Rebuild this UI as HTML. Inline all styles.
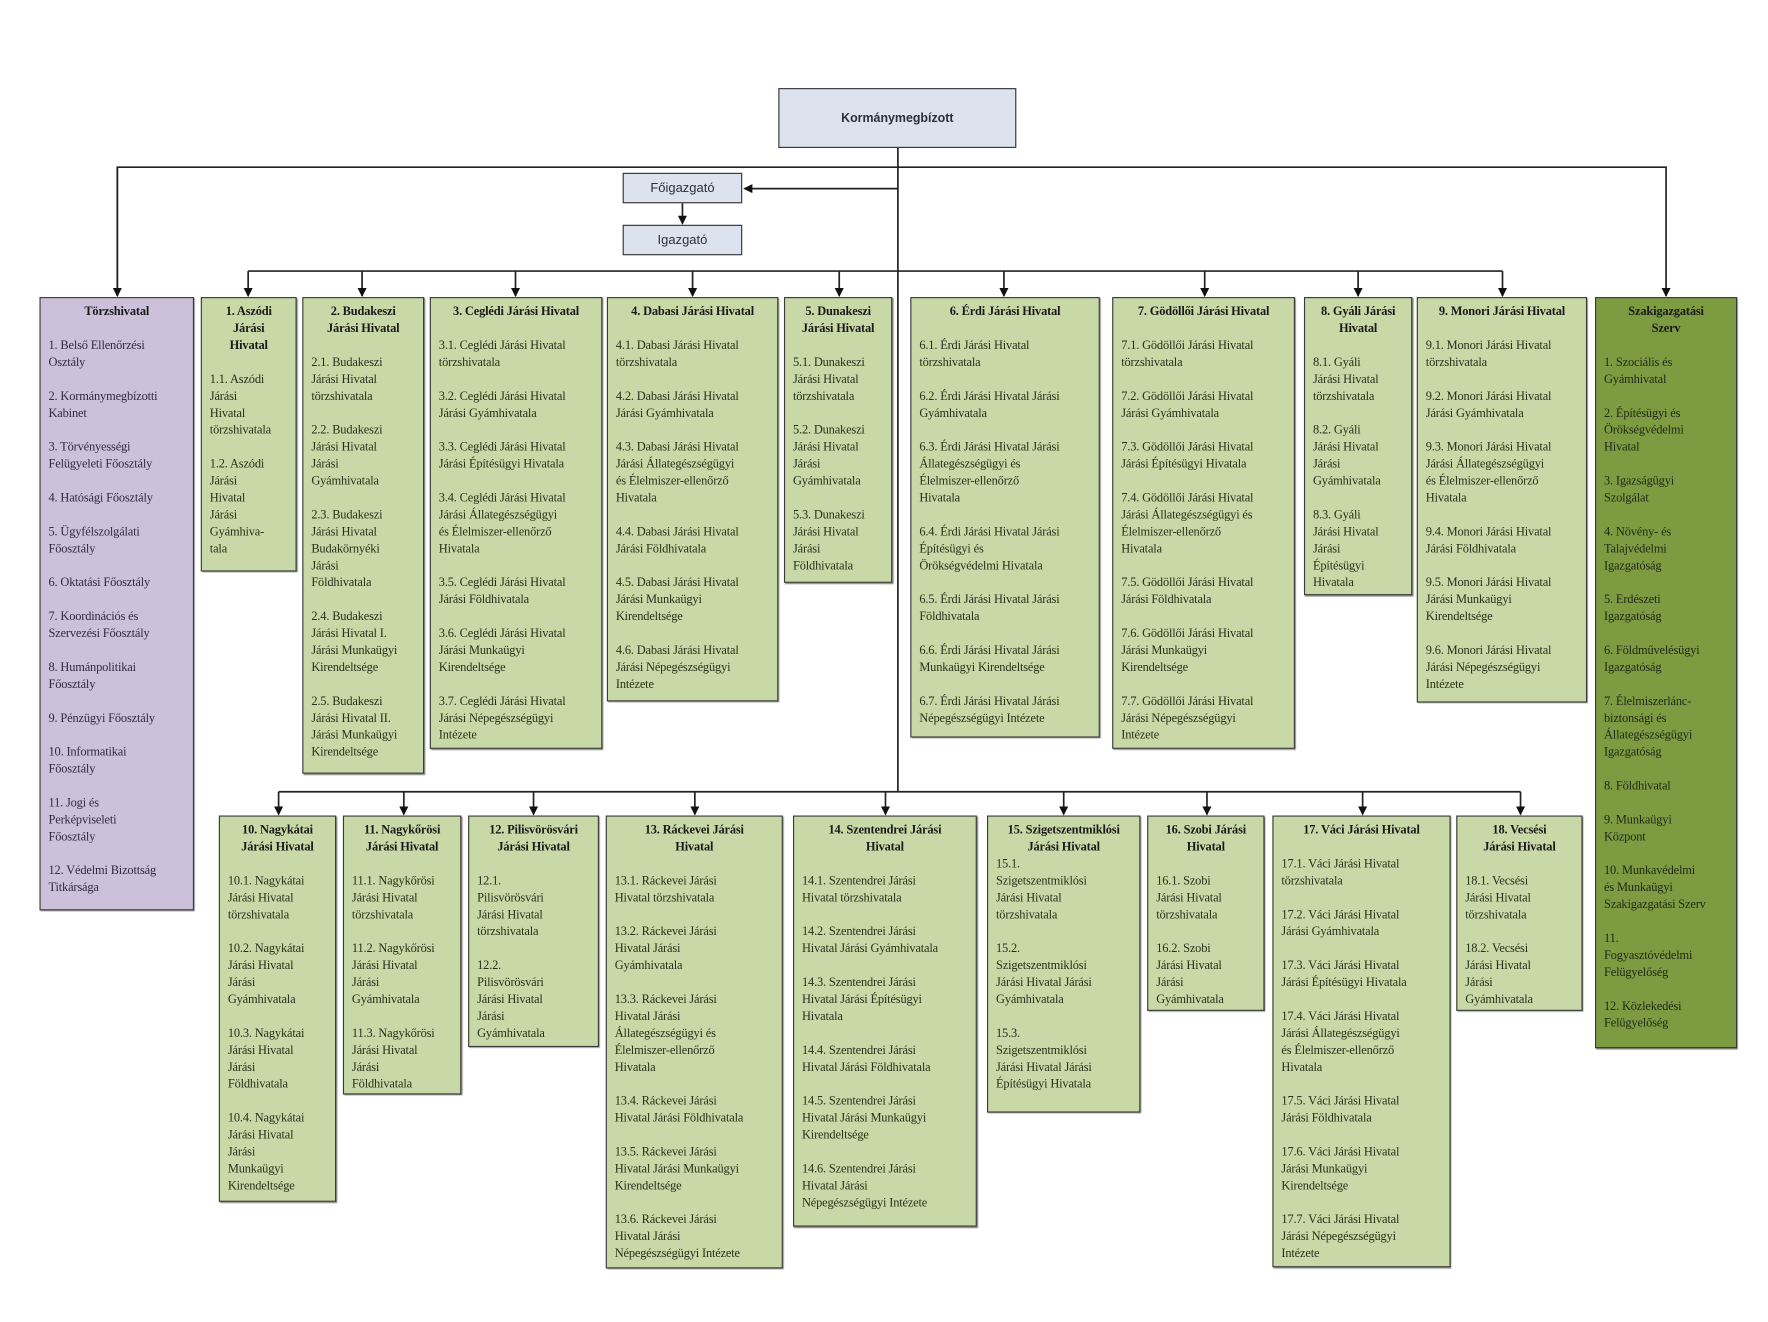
<!DOCTYPE html>
<html><head><meta charset="utf-8"><style>
html,body{margin:0;padding:0;background:#fff;}
body{width:1768px;height:1322px;overflow:hidden;position:relative;}
#c{position:absolute;left:0;top:0;width:1550px;height:1160px;transform-origin:0 0;transform:scale(1.128,1.1295);}
.b{position:absolute;box-sizing:border-box;border:1.5px solid #3a3a3a;box-shadow:1px 1px 1px #777;background:#c8d8a6;padding:5px 5px 0 7px;font:11px/15px "Liberation Serif",serif;color:#26321a;white-space:nowrap;letter-spacing:-0.15px;overflow:hidden;}
.b .t{font-weight:bold;text-align:center;color:#1a1a1a;margin-right:2px;}
.p{background:#cdc0db;color:#33293d;}
.d{background:#7d9c42;color:#1e2814;}
.top{position:absolute;box-sizing:border-box;border:1.5px solid #333;background:#dde3ee;font:bold 11px "Liberation Sans",sans-serif;color:#2a2f3a;display:flex;align-items:center;justify-content:center;}
.top.s{font-weight:normal;font-size:11.5px;}
svg{position:absolute;left:0;top:0;}
</style></head><body><div id="c">
<svg width="1550" height="1160" viewBox="0 0 1550 1160">
<defs><marker id="a" markerWidth="8" markerHeight="8" refX="7" refY="4" orient="auto" markerUnits="userSpaceOnUse"><path d="M0,0 L8,4 L0,8 z" fill="#111"/></marker></defs>
<g stroke="#222" stroke-width="1.5" fill="none">
<line x1="796" y1="131" x2="796" y2="701"/>
<polyline points="104,262 104,148 1477,148 1477,262" marker-end="url(#a)"/>
<line x1="104" y1="148" x2="104" y2="262" marker-end="url(#a)"/>
<line x1="796" y1="167" x2="660" y2="167" marker-end="url(#a)"/>
<line x1="605" y1="180" x2="605" y2="198" marker-end="url(#a)"/>
<line x1="220" y1="240" x2="1332" y2="240"/>
<line x1="220" y1="240" x2="220" y2="262" marker-end="url(#a)"/>
<line x1="321" y1="240" x2="321" y2="262" marker-end="url(#a)"/>
<line x1="457" y1="240" x2="457" y2="262" marker-end="url(#a)"/>
<line x1="614" y1="240" x2="614" y2="262" marker-end="url(#a)"/>
<line x1="744" y1="240" x2="744" y2="262" marker-end="url(#a)"/>
<line x1="890" y1="240" x2="890" y2="262" marker-end="url(#a)"/>
<line x1="1068" y1="240" x2="1068" y2="262" marker-end="url(#a)"/>
<line x1="1204" y1="240" x2="1204" y2="262" marker-end="url(#a)"/>
<line x1="1332" y1="240" x2="1332" y2="262" marker-end="url(#a)"/>
<line x1="247" y1="701" x2="1348" y2="701"/>
<line x1="247" y1="701" x2="247" y2="721" marker-end="url(#a)"/>
<line x1="358" y1="701" x2="358" y2="721" marker-end="url(#a)"/>
<line x1="473" y1="701" x2="473" y2="721" marker-end="url(#a)"/>
<line x1="616" y1="701" x2="616" y2="721" marker-end="url(#a)"/>
<line x1="785" y1="701" x2="785" y2="721" marker-end="url(#a)"/>
<line x1="943" y1="701" x2="943" y2="721" marker-end="url(#a)"/>
<line x1="1070" y1="701" x2="1070" y2="721" marker-end="url(#a)"/>
<line x1="1208" y1="701" x2="1208" y2="721" marker-end="url(#a)"/>
<line x1="1348" y1="701" x2="1348" y2="721" marker-end="url(#a)"/>
</g></svg>

<div class="top" style="left:690px;top:78px;width:211px;height:53px;">Kormánymegbízott</div>
<div class="top s" style="left:552px;top:153px;width:106px;height:27px;">Főigazgató</div>
<div class="top s" style="left:552px;top:199px;width:106px;height:27px;">Igazgató</div>

<div class="b p" style="left:35px;top:263px;width:137px;height:543px;"><div class="t">Törzshivatal</div><br>1. Belső Ellenőrzési<br>Osztály<br><br>2. Kormánymegbízotti<br>Kabinet<br><br>3. Törvényességi<br>Felügyeleti Főosztály<br><br>4. Hatósági Főosztály<br><br>5. Ügyfélszolgálati<br>Főosztály<br><br>6. Oktatási Főosztály<br><br>7. Koordinációs és<br>Szervezési Főosztály<br><br>8. Humánpolitikai<br>Főosztály<br><br>9. Pénzügyi Főosztály<br><br>10. Informatikai<br>Főosztály<br><br>11. Jogi és<br>Perképviseleti<br>Főosztály<br><br>12. Védelmi Bizottság<br>Titkársága</div>

<div class="b" style="left:178px;top:263px;width:85px;height:243px;"><div class="t">1. Aszódi<br>Járási<br>Hivatal</div><br>1.1. Aszódi<br>Járási<br>Hivatal<br>törzshivatala<br><br>1.2. Aszódi<br>Járási<br>Hivatal<br>Járási<br>Gyámhiva-<br>tala</div>

<div class="b" style="left:268px;top:263px;width:108px;height:422px;"><div class="t">2. Budakeszi<br>Járási Hivatal</div><br>2.1. Budakeszi<br>Járási Hivatal<br>törzshivatala<br><br>2.2. Budakeszi<br>Járási Hivatal<br>Járási<br>Gyámhivatala<br><br>2.3. Budakeszi<br>Járási Hivatal<br>Budakörnyéki<br>Járási<br>Földhivatala<br><br>2.4. Budakeszi<br>Járási Hivatal I.<br>Járási Munkaügyi<br>Kirendeltsége<br><br>2.5. Budakeszi<br>Járási Hivatal II.<br>Járási Munkaügyi<br>Kirendeltsége</div>

<div class="b" style="left:381px;top:263px;width:153px;height:400px;"><div class="t">3. Ceglédi Járási Hivatal</div><br>3.1. Ceglédi Járási Hivatal<br>törzshivatala<br><br>3.2. Ceglédi Járási Hivatal<br>Járási Gyámhivatala<br><br>3.3. Ceglédi Járási Hivatal<br>Járási Építésügyi Hivatala<br><br>3.4. Ceglédi Járási Hivatal<br>Járási  Állategészségügyi<br>és Élelmiszer-ellenőrző<br>Hivatala<br><br>3.5. Ceglédi Járási Hivatal<br>Járási  Földhivatala<br><br>3.6. Ceglédi Járási Hivatal<br>Járási Munkaügyi<br>Kirendeltsége<br><br>3.7. Ceglédi Járási Hivatal<br>Járási Népegészségügyi<br>Intézete</div>

<div class="b" style="left:538px;top:263px;width:152px;height:358px;"><div class="t">4. Dabasi Járási Hivatal</div><br>4.1. Dabasi Járási Hivatal<br>törzshivatala<br><br>4.2. Dabasi Járási Hivatal<br>Járási Gyámhivatala<br><br>4.3. Dabasi Járási Hivatal<br>Járási Állategészségügyi<br>és Élelmiszer-ellenőrző<br>Hivatala<br><br>4.4. Dabasi Járási Hivatal<br>Járási Földhivatala<br><br>4.5. Dabasi Járási Hivatal<br>Járási Munkaügyi<br>Kirendeltsége<br><br>4.6. Dabasi Járási Hivatal<br>Járási Népegészségügyi<br>Intézete</div>

<div class="b" style="left:695px;top:263px;width:96px;height:253px;"><div class="t">5. Dunakeszi<br>Járási Hivatal</div><br>5.1. Dunakeszi<br>Járási Hivatal<br>törzshivatala<br><br>5.2. Dunakeszi<br>Járási Hivatal<br>Járási<br>Gyámhivatala<br><br>5.3. Dunakeszi<br>Járási Hivatal<br>Járási<br>Földhivatala</div>

<div class="b" style="left:807px;top:263px;width:168px;height:390px;"><div class="t">6. Érdi Járási Hivatal</div><br>6.1. Érdi Járási Hivatal<br>törzshivatala<br><br>6.2. Érdi Járási Hivatal Járási<br>Gyámhivatala<br><br>6.3. Érdi Járási Hivatal Járási<br>Állategészségügyi és<br>Élelmiszer-ellenőrző<br>Hivatala<br><br>6.4. Érdi Járási Hivatal Járási<br>Építésügyi és<br>Örökségvédelmi Hivatala<br><br>6.5. Érdi Járási Hivatal Járási<br>Földhivatala<br><br>6.6. Érdi Járási Hivatal Járási<br>Munkaügyi Kirendeltsége<br><br>6.7. Érdi Járási Hivatal Járási<br>Népegészségügyi Intézete</div>

<div class="b" style="left:986px;top:263px;width:162px;height:400px;"><div class="t">7. Gödöllői Járási Hivatal</div><br>7.1. Gödöllői Járási Hivatal<br>törzshivatala<br><br>7.2. Gödöllői Járási Hivatal<br>Járási Gyámhivatala<br><br>7.3. Gödöllői Járási Hivatal<br>Járási Építésügyi Hivatala<br><br>7.4. Gödöllői Járási Hivatal<br>Járási Állategészségügyi és<br>Élelmiszer-ellenőrző<br>Hivatala<br><br>7.5. Gödöllői Járási Hivatal<br>Járási Földhivatala<br><br>7.6. Gödöllői Járási Hivatal<br>Járási Munkaügyi<br>Kirendeltsége<br><br>7.7. Gödöllői Járási Hivatal<br>Járási Népegészségügyi<br>Intézete</div>

<div class="b" style="left:1156px;top:263px;width:96px;height:264px;"><div class="t">8. Gyáli Járási<br>Hivatal</div><br>8.1. Gyáli<br>Járási Hivatal<br>törzshivatala<br><br>8.2. Gyáli<br>Járási Hivatal<br>Járási<br>Gyámhivatala<br><br>8.3. Gyáli<br>Járási Hivatal<br>Járási<br>Építésügyi<br>Hivatala</div>

<div class="b" style="left:1256px;top:263px;width:151px;height:359px;"><div class="t">9. Monori Járási Hivatal</div><br>9.1. Monori Járási Hivatal<br>törzshivatala<br><br>9.2. Monori Járási Hivatal<br>Járási Gyámhivatala<br><br>9.3. Monori Járási Hivatal<br>Járási Állategészségügyi<br>és Élelmiszer-ellenőrző<br>Hivatala<br><br>9.4. Monori Járási Hivatal<br>Járási Földhivatala<br><br>9.5. Monori Járási Hivatal<br>Járási Munkaügyi<br>Kirendeltsége<br><br>9.6. Monori Járási Hivatal<br>Járási Népegészségügyi<br>Intézete</div>

<div class="b d" style="left:1414px;top:263px;width:126px;height:665px;"><div class="t">Szakigazgatási<br>Szerv</div><br>1. Szociális és<br>Gyámhivatal<br><br>2. Építésügyi és<br>Örökségvédelmi<br>Hivatal<br><br>3. Igazságügyi<br>Szolgálat<br><br>4. Növény- és<br>Talajvédelmi<br>Igazgatóság<br><br>5. Erdészeti<br>Igazgatóság<br><br>6. Földművelésügyi<br>Igazgatóság<br><br>7. Élelmiszerlánc-<br>biztonsági és<br>Állategészségügyi<br>Igazgatóság<br><br>8. Földhivatal<br><br>9. Munkaügyi<br>Központ<br><br>10. Munkavédelmi<br>és Munkaügyi<br>Szakigazgatási Szerv<br><br>11.<br>Fogyasztóvédelmi<br>Felügyelőség<br><br>12. Közlekedési<br>Felügyelőség</div>

<div class="b" style="left:194px;top:722px;width:104px;height:342px;"><div class="t">10. Nagykátai<br>Járási Hivatal</div><br>10.1. Nagykátai<br>Járási Hivatal<br>törzshivatala<br><br>10.2. Nagykátai<br>Járási Hivatal<br>Járási<br>Gyámhivatala<br><br>10.3. Nagykátai<br>Járási Hivatal<br>Járási<br>Földhivatala<br><br>10.4. Nagykátai<br>Járási Hivatal<br>Járási<br>Munkaügyi<br>Kirendeltsége</div>

<div class="b" style="left:304px;top:722px;width:105px;height:247px;"><div class="t">11. Nagykőrösi<br>Járási Hivatal</div><br>11.1. Nagykőrösi<br>Járási Hivatal<br>törzshivatala<br><br>11.2. Nagykőrösi<br>Járási Hivatal<br>Járási<br>Gyámhivatala<br><br>11.3. Nagykőrösi<br>Járási Hivatal<br>Járási<br>Földhivatala</div>

<div class="b" style="left:415px;top:722px;width:116px;height:205px;"><div class="t">12. Pilisvörösvári<br>Járási Hivatal</div><br>12.1.<br>Pilisvörösvári<br>Járási Hivatal<br>törzshivatala<br><br>12.2.<br>Pilisvörösvári<br>Járási Hivatal<br>Járási<br>Gyámhivatala</div>

<div class="b" style="left:537px;top:722px;width:157px;height:401px;"><div class="t">13. Ráckevei Járási<br>Hivatal</div><br>13.1. Ráckevei Járási<br>Hivatal törzshivatala<br><br>13.2. Ráckevei Járási<br>Hivatal Járási<br>Gyámhivatala<br><br>13.3. Ráckevei Járási<br>Hivatal Járási<br>Állategészségügyi és<br>Élelmiszer-ellenőrző<br>Hivatala<br><br>13.4. Ráckevei Járási<br>Hivatal Járási Földhivatala<br><br>13.5. Ráckevei Járási<br>Hivatal Járási Munkaügyi<br>Kirendeltsége<br><br>13.6. Ráckevei Járási<br>Hivatal Járási<br>Népegészségügyi Intézete</div>

<div class="b" style="left:703px;top:722px;width:163px;height:364px;"><div class="t">14. Szentendrei Járási<br>Hivatal</div><br>14.1. Szentendrei Járási<br>Hivatal törzshivatala<br><br>14.2. Szentendrei Járási<br>Hivatal Járási Gyámhivatala<br><br>14.3. Szentendrei Járási<br>Hivatal Járási Építésügyi<br>Hivatala<br><br>14.4. Szentendrei Járási<br>Hivatal Járási Földhivatala<br><br>14.5. Szentendrei Járási<br>Hivatal Járási Munkaügyi<br>Kirendeltsége<br><br>14.6. Szentendrei Járási<br>Hivatal Járási<br>Népegészségügyi Intézete</div>

<div class="b" style="left:875px;top:722px;width:136px;height:263px;"><div class="t">15. Szigetszentmiklósi<br>Járási Hivatal</div>15.1.<br>Szigetszentmiklósi<br>Járási Hivatal<br>törzshivatala<br><br>15.2.<br>Szigetszentmiklósi<br>Járási Hivatal Járási<br>Gyámhivatala<br><br>15.3.<br>Szigetszentmiklósi<br>Járási Hivatal Járási<br>Építésügyi Hivatala</div>

<div class="b" style="left:1017px;top:722px;width:104px;height:173px;"><div class="t">16. Szobi Járási<br>Hivatal</div><br>16.1. Szobi<br>Járási Hivatal<br>törzshivatala<br><br>16.2. Szobi<br>Járási Hivatal<br>Járási<br>Gyámhivatala</div>

<div class="b" style="left:1128px;top:722px;width:158px;height:400px;"><div class="t">17. Váci Járási Hivatal</div><br>17.1. Váci Járási Hivatal<br>törzshivatala<br><br>17.2. Váci Járási Hivatal<br>Járási Gyámhivatala<br><br>17.3. Váci Járási Hivatal<br>Járási Építésügyi Hivatala<br><br>17.4. Váci Járási Hivatal<br>Járási  Állategészségügyi<br>és Élelmiszer-ellenőrző<br>Hivatala<br><br>17.5. Váci Járási Hivatal<br>Járási Földhivatala<br><br>17.6. Váci Járási Hivatal<br>Járási Munkaügyi<br>Kirendeltsége<br><br>17.7. Váci Járási Hivatal<br>Járási Népegészségügyi<br>Intézete</div>

<div class="b" style="left:1291px;top:722px;width:112px;height:173px;"><div class="t">18. Vecsési<br>Járási Hivatal</div><br>18.1. Vecsési<br>Járási Hivatal<br>törzshivatala<br><br>18.2. Vecsési<br>Járási Hivatal<br>Járási<br>Gyámhivatala</div>

</div></body></html>
